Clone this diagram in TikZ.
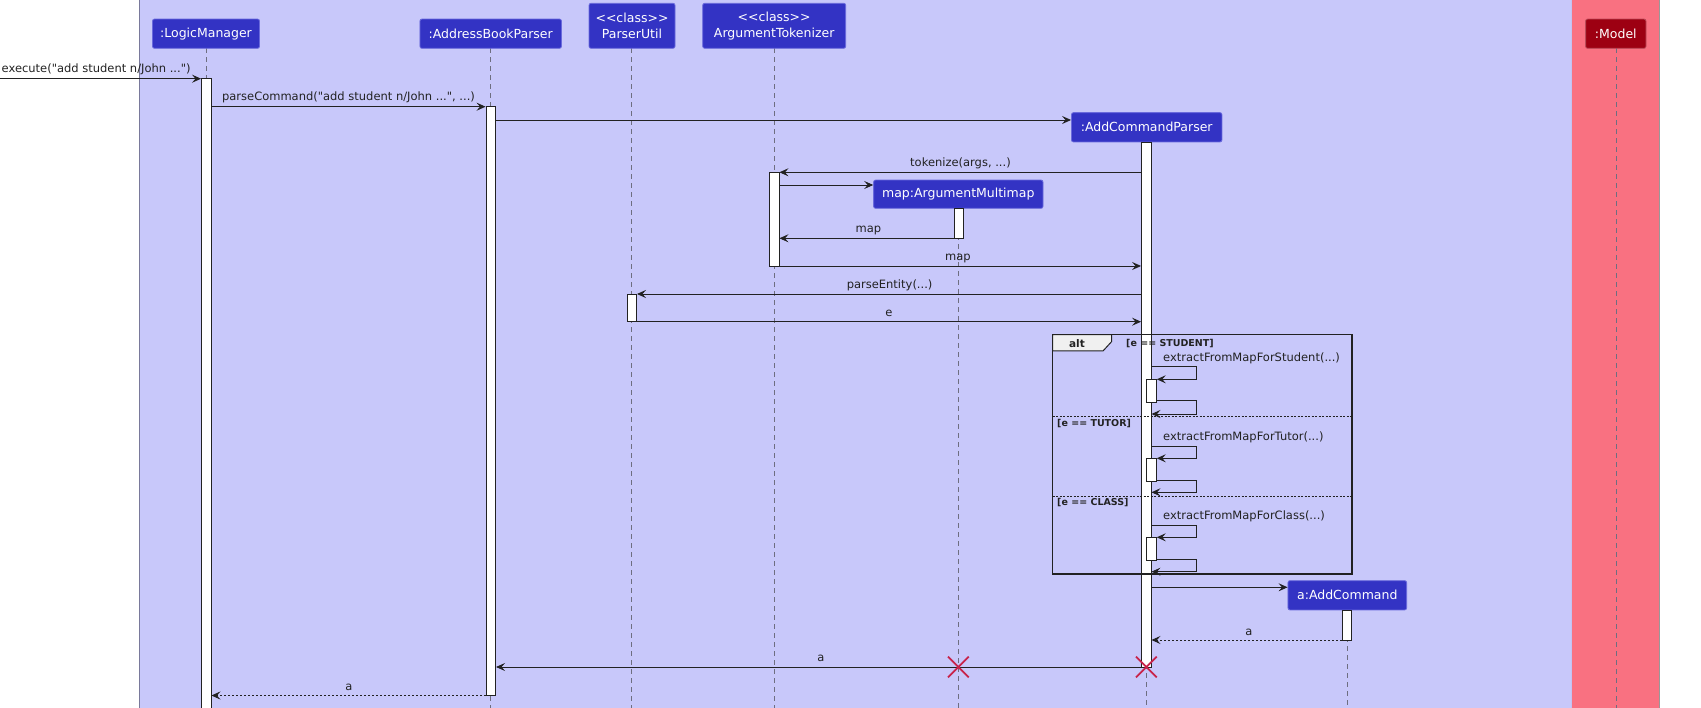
\documentclass[tikz,border=0pt]{standalone}
\usepackage{fontspec}
\setmainfont{DejaVu Sans}[Ligatures=TeXOff]
\usetikzlibrary{arrows.meta,fit,shapes.misc}
\definecolor{logic}{HTML}{3333C4}
\definecolor{logicT1}{HTML}{C8C8FA}
\definecolor{logicT2}{HTML}{6A6ADC}
\definecolor{modelc}{HTML}{9D0012}
\definecolor{modelT1}{HTML}{F97181}
\definecolor{ink}{HTML}{222222}
\definecolor{xred}{HTML}{C8234A}
\definecolor{lifec}{HTML}{6E6E80}
\newcommand{\dq}{"}
\newcommand{\stereo}{<<class>>}
\begin{document}
\begin{tikzpicture}[x=1pt,y=-1pt,
 part/.style={draw=logicT2, fill=logic, rounded corners=2pt, text=white, font=\fontsize{12.5}{15.6}\selectfont, inner sep=0pt, align=center, line width=0.8pt},
 mpart/.style={part, draw=modelc!70!white, fill=modelc},
 act/.style={draw=ink, fill=white, line width=0.9pt, inner sep=0pt},
 life/.style={draw=lifec, dash pattern=on 5pt off 4pt, line width=0.9pt},
 msg/.style={draw=ink, line width=0.9pt, -{Stealth[length=9pt,width=8pt,inset=3.5pt]}},
 ret/.style={msg, dash pattern=on 2pt off 2pt},
 lbl/.style={font=\fontsize{11.5}{13}\selectfont, text=ink, anchor=base, inner sep=0pt},
 guard/.style={font=\bfseries\fontsize{9.5}{11}\selectfont, text=ink, anchor=base west, inner sep=0pt},
 xmark/.style={cross out, draw=xred, line width=1.8pt, minimum size=19pt, inner sep=0pt},
]
\useasboundingbox (0,0) rectangle (1701,708);
\fill[white] (0,0) rectangle (1701,708);
% boxes
\fill[logicT1] (139.5,0) rectangle (1571,708);
\draw[draw=gray!70!logicT2, line width=0.9pt] (139.5,0) -- (139.5,708);
\fill[modelT1] (1571,0) rectangle (1659,708);
\draw[draw=logicT2!40!white, line width=0.8pt] (1571,0) -- (1571,708);
\draw[draw=gray!80, line width=0.8pt] (1659,0) -- (1659,708);

% rows
\coordinate (r1) at (0,78.7);
\coordinate (r2) at (0,106.7);
\coordinate (r3) at (0,120);
\coordinate (r4) at (0,172.3);
\coordinate (r5) at (0,185);
\coordinate (r6) at (0,238.3);
\coordinate (r7) at (0,266);
\coordinate (r8) at (0,294);
\coordinate (r9) at (0,321.7);
\coordinate (r10) at (0,587.3);
\coordinate (r11) at (0,640);
\coordinate (r12) at (0,667);
\coordinate (r13) at (0,695.5);
\coordinate (lx) at (1196,0);
\coordinate (src) at (0,78.7);

% lifelines
\draw[life] (206,48.3) -- (206,708);
\draw[life] (490.8,48.3) -- (490.8,708);
\draw[life] (631.8,48.3) -- (631.8,708);
\draw[life] (774.2,48.3) -- (774.2,708);
\draw[life] (1616,48.3) -- (1616,708);
\draw[life] (1146.3,142) -- (1146.3,708);
\draw[life] (958.4,208.3) -- (958.4,708);
\draw[life] (1347,610) -- (1347,708);

% participants
\node[part, minimum width=107pt, minimum height=29.3pt] (lm) at (206,33.7) {:LogicManager};
\node[part, minimum width=141.5pt, minimum height=29.3pt] (abp) at (490.7,33.7) {:AddressBookParser};
\node[part, minimum width=86pt, minimum height=45pt] (pu) at (632,25.8) {\stereo\\ParserUtil};
\node[part, minimum width=143pt, minimum height=45pt] (at) at (774.2,25.8) {\stereo\\ArgumentTokenizer};
\node[mpart, minimum width=60.4pt, minimum height=29.3pt] (model) at (1615.8,33.7) {:Model};
\node[part, minimum width=150.5pt, minimum height=29.3pt] (acp) at (1146.7,127.3) {:AddCommandParser};
\node[part, minimum width=169.4pt, minimum height=28.3pt] (map) at (958.3,194.2) {map:ArgumentMultimap};
\node[part, minimum width=118.7pt, minimum height=29.3pt] (ac) at (1347.3,595.3) {a:AddCommand};

% activation bars
\node[act, fit={(201.5,78.7)(211,712)}] (lmA) {};
\node[act, fit={(486,106.7)(495.6,695.5)}] (abpA) {};
\node[act, fit={(1141.5,142)(1151,667)}] (acpA) {};
\node[act, fit={(769.5,172.3)(779,266)}] (atA) {};
\node[act, fit={(954,208.3)(963,238.3)}] (mapA) {};
\node[act, fit={(627,294)(636.5,321.7)}] (puA) {};
\node[act, fit={(1342.3,610)(1351.7,640)}] (acA) {};

% messages
\draw[msg] (src) -- (lmA.west |- r1);
\node[lbl, anchor=base west] (l1) at (1.5,73) {execute(\dq add student n/John ...\dq)};
\draw[msg] (lmA.east |- r2) -- (abpA.west |- r2);
\node[lbl] (l2) at (348.5,101) {parseCommand(\dq add student n/John ...\dq, ...)};
\draw[msg] (abpA.east |- r3) -- (acp.west |- r3);
\draw[msg] (acpA.west |- r4) -- (atA.east |- r4);
\node[lbl] (l4) at (960.5,167) {tokenize(args, ...)};
\draw[msg] (atA.east |- r5) -- (map.west |- r5);
\draw[msg] (mapA.west |- r6) -- (atA.east |- r6);
\node[lbl] (l6) at (868.5,233) {map};
\draw[msg] (atA.east |- r7) -- (acpA.west |- r7);
\node[lbl] (l7) at (958,260.7) {map};
\draw[msg] (acpA.west |- r8) -- (puA.east |- r8);
\node[lbl] (l8) at (889.6,289) {parseEntity(...)};
\draw[msg] (puA.east |- r9) -- (acpA.west |- r9);
\node[lbl] (l9) at (889,316.5) {e};

% alt frame
\node[draw=ink, line width=1.3pt, inner sep=0pt, fit={(1052.7,334.7)(1352,574)}] (alt) {};
\draw[draw=ink, fill=gray!12, line width=1pt] (1052.7,334.7) -- (1111.7,334.7) -- (1111.7,341.5) -- (1103,351) -- (1052.7,351) -- cycle;
\node[font=\bfseries\fontsize{10.5}{12}\selectfont, text=ink, anchor=base, inner sep=0pt] (altl) at (1077,347.5) {alt};
\node[guard] (g1) at (1126,346.7) {[e == STUDENT]};
\draw[draw=ink, line width=0.8pt, dash pattern=on 2pt off 1.5pt] (1052.7,416.7) -- (1352,416.7);
\node[guard] (g2) at (1057,427) {[e == TUTOR]};
\draw[draw=ink, line width=0.8pt, dash pattern=on 2pt off 1.5pt] (1052.7,496) -- (1352,496);
\node[guard] (g3) at (1057,505.7) {[e == CLASS]};

% sub-activations
\node[act, fit={(1146.7,379.3)(1156.3,402)}] (s1) {};
\node[act, fit={(1146.7,458.3)(1156.3,481.7)}] (s2) {};
\node[act, fit={(1146.7,537.3)(1156.3,560.7)}] (s3) {};
\coordinate (a1) at (0,366.7); \coordinate (b1) at (0,379.3);
\coordinate (c1) at (0,400.7); \coordinate (d1) at (0,414);
\coordinate (a2) at (0,446); \coordinate (b2) at (0,458.3);
\coordinate (c2) at (0,480.3); \coordinate (d2) at (0,492.3);
\coordinate (a3) at (0,525.3); \coordinate (b3) at (0,537.3);
\coordinate (c3) at (0,559.3); \coordinate (d3) at (0,571.7);
\node[lbl, anchor=base west] (e1) at (1163,361.7) {extractFromMapForStudent(...)};
\draw[msg] (acpA.east |- a1) -- (lx |- a1) |- (s1.east |- b1);
\draw[msg] (s1.east |- c1) -- (lx |- c1) |- (acpA.east |- d1);
\node[lbl, anchor=base west] (e2) at (1163,440.7) {extractFromMapForTutor(...)};
\draw[msg] (acpA.east |- a2) -- (lx |- a2) |- (s2.east |- b2);
\draw[msg] (s2.east |- c2) -- (lx |- c2) |- (acpA.east |- d2);
\node[lbl, anchor=base west] (e3) at (1163,519.3) {extractFromMapForClass(...)};
\draw[msg] (acpA.east |- a3) -- (lx |- a3) |- (s3.east |- b3);
\draw[msg] (s3.east |- c3) -- (lx |- c3) |- (acpA.east |- d3);

% create AddCommand and returns
\draw[msg] (acpA.east |- r10) -- (ac.west |- r10);
\draw[ret] (acA.west |- r11) -- (acpA.east |- r11);
\node[lbl] (l11) at (1249,635) {a};
\draw[msg] (acpA.west |- r12) -- (abpA.east |- r12);
\node[lbl] (l12) at (821,661.5) {a};
\draw[ret] (abpA.west |- r13) -- (lmA.east |- r13);
\node[lbl] (l13) at (349,690) {a};

% destroy marks
\node[xmark] (x1) at (958.4,667) {};
\node[xmark] (x2) at (1146.3,667) {};
\end{tikzpicture}
\end{document}
